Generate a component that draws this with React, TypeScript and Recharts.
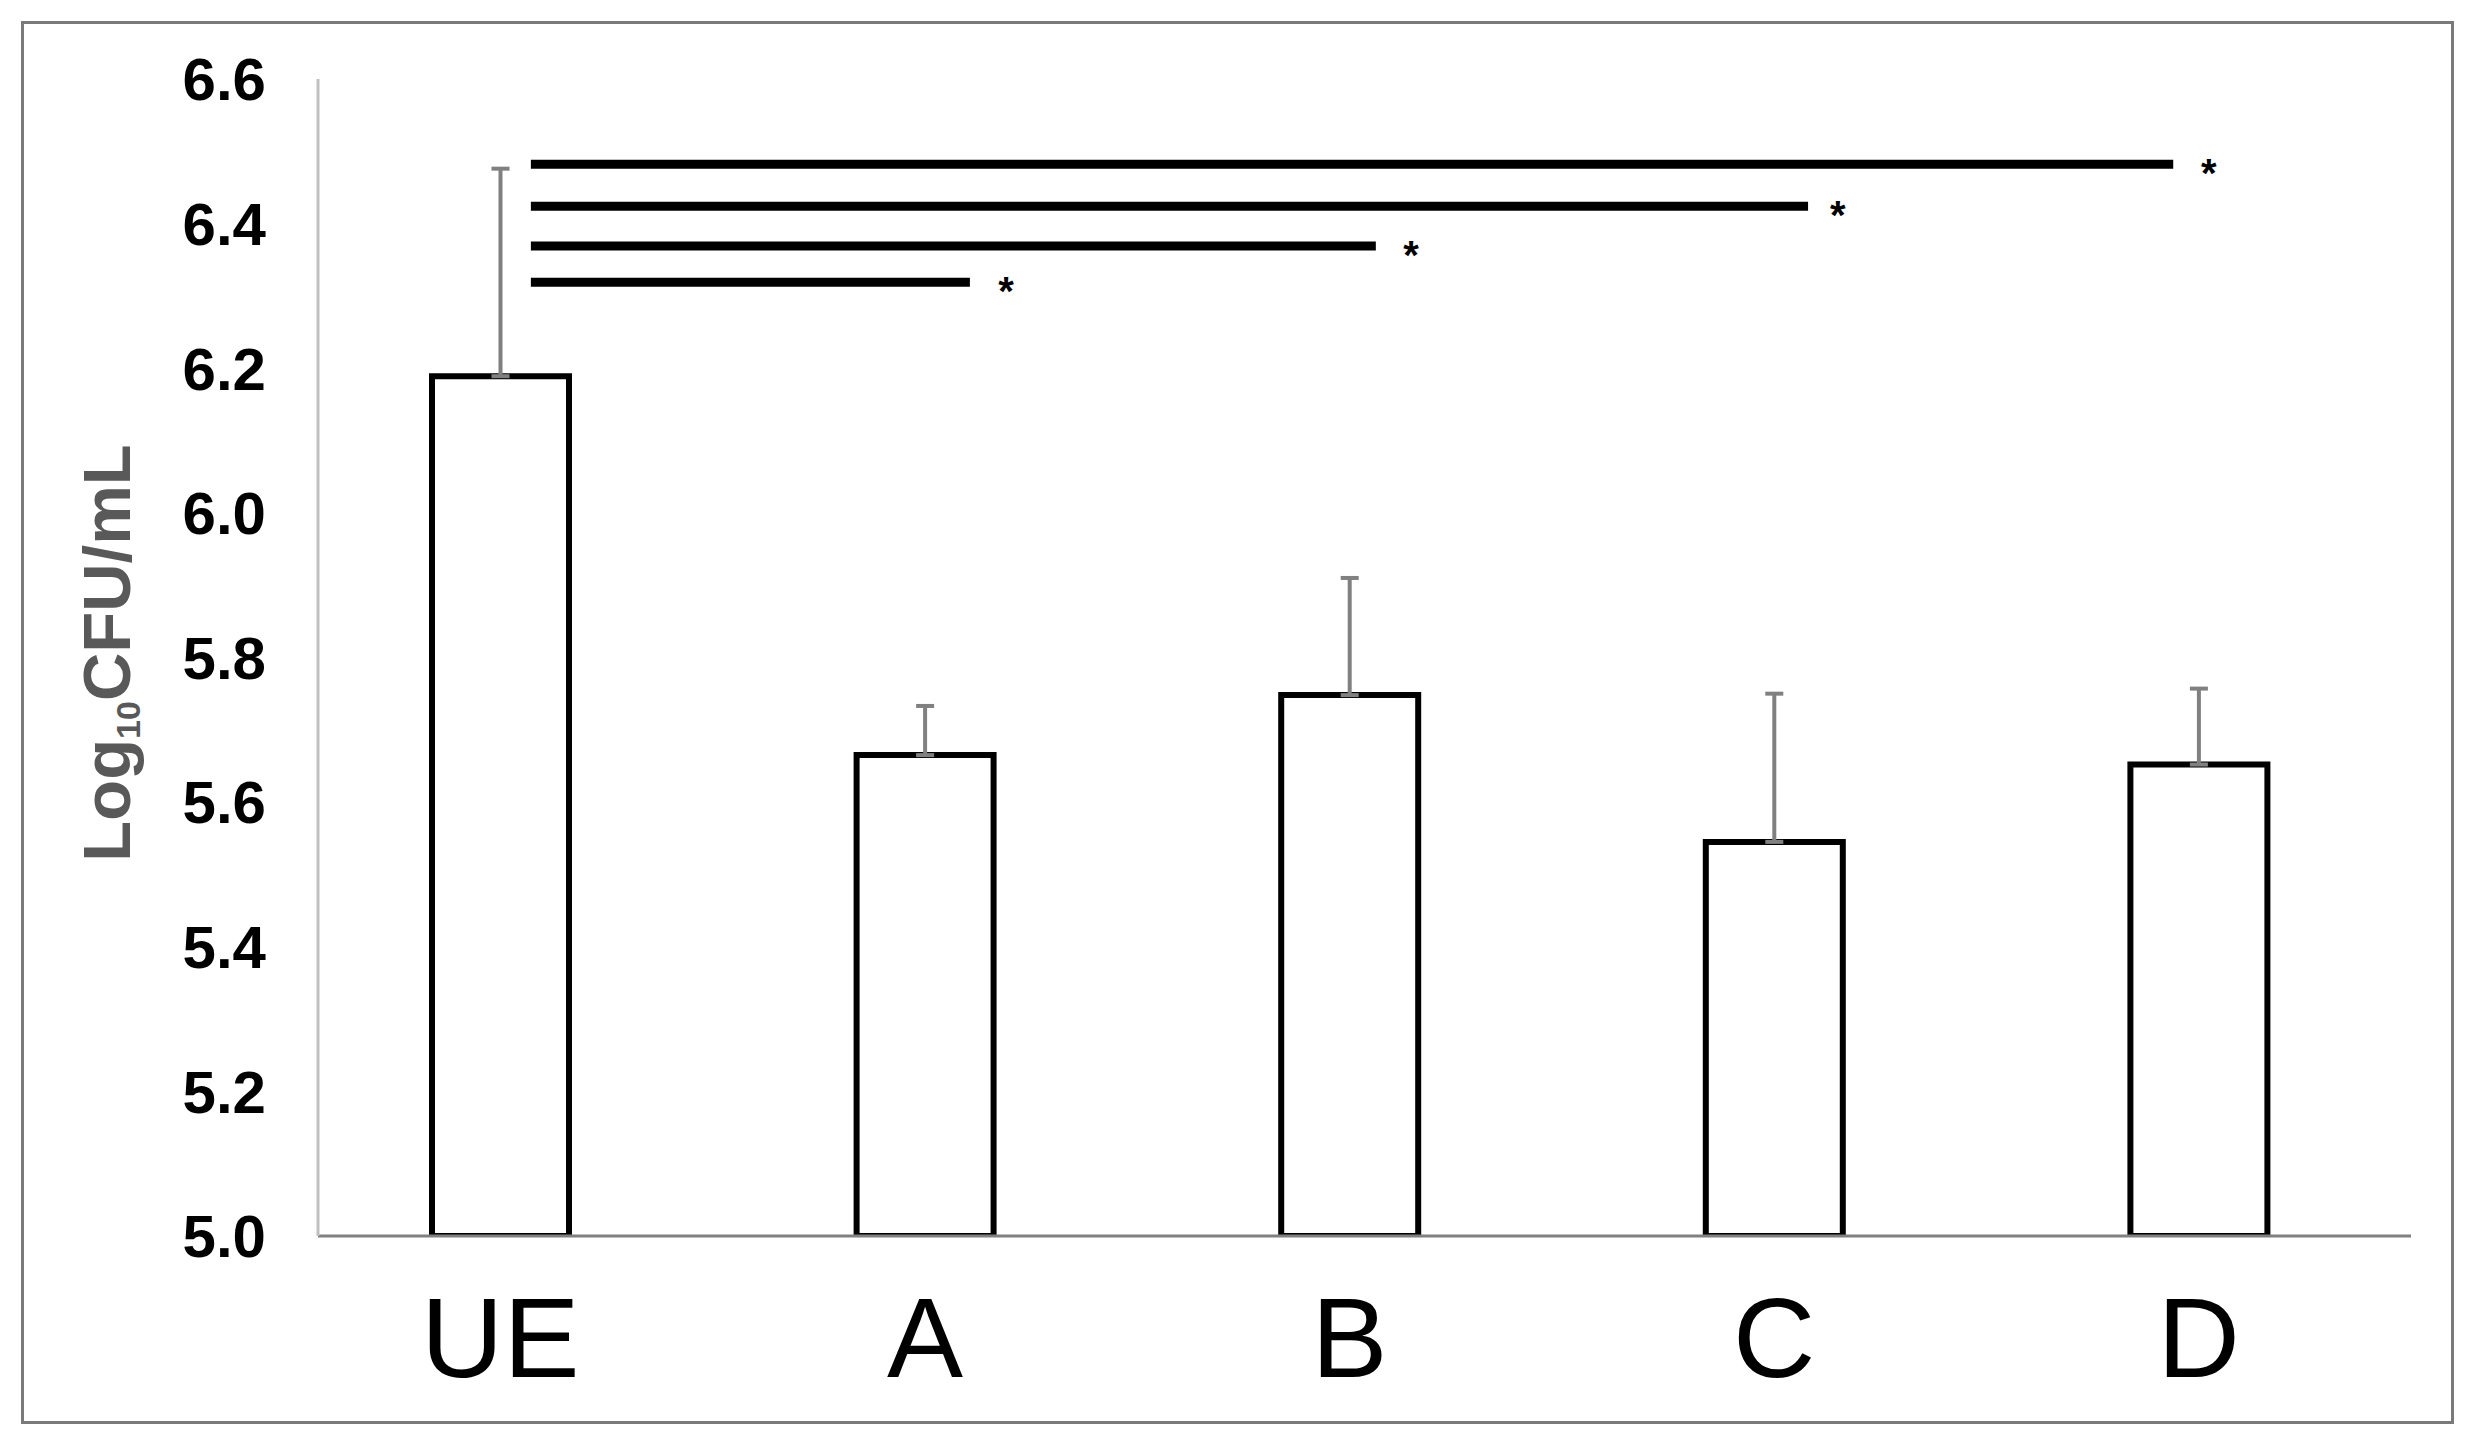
import { BarChart, Bar, XAxis, YAxis, ErrorBar, ReferenceLine, ReferenceDot } from "recharts";

const groups = ["UE", "A", "B", "C", "D"];
const means = [6.189, 5.665, 5.748, 5.545, 5.652];
const sdUpper = [0.287, 0.068, 0.162, 0.205, 0.105];
const yTicks = [5.0, 5.2, 5.4, 5.6, 5.8, 6.0, 6.2, 6.4, 6.6];

// significance bars (UE vs each group); x in band units (UE band = 0..1)
const sigStart = [0.572, 0.572, 0.572, 0.572];
const sigEnd = [4.44, 3.58, 2.562, 1.606];
const sigLevel = [6.482, 6.424, 6.369, 6.319];
const starX = [4.524, 3.65, 2.645, 1.691];

const data = groups.map((g, i) => ({ name: g, pos: i + 0.5, value: means[i], err: [0, sdUpper[i]] }));

const FONT = '"Liberation Sans", Arial, Helvetica, sans-serif';

const YTitle = () => (
  <text
    transform="translate(130,653) rotate(-90)"
    textAnchor="middle"
    fontFamily={FONT}
    fontWeight="bold"
    fill="#595959"
    fontSize={67}
  >
    Log
    <tspan fontSize={34} dy={10}>10</tspan>
    <tspan dy={-10}>CFU/mL</tspan>
  </text>
);

const Star = (props: any) => (
  <text
    x={props.cx}
    y={props.cy + 0.57 * 40}
    textAnchor="middle"
    fontFamily={FONT}
    fontWeight="bold"
    fontSize={40}
    fill="#000"
  >
    *
  </text>
);

export default function App() {
  return (
    <div style={{ position: "absolute", left: 0, top: 0, width: 2472, height: 1443, background: "#fff" }}>
      <div
        style={{
          position: "absolute",
          left: 21,
          top: 21,
          width: 2433,
          height: 1403,
          border: "3px solid #7a7a7a",
          boxSizing: "border-box",
        }}
      />
      <div style={{ position: "absolute", left: 0, top: 0 }}>
        <BarChart
          width={2472}
          height={1443}
          data={data}
          margin={{ top: 79, right: 61, bottom: 0, left: 218 }}
        >
          <XAxis
            dataKey="name"
            padding={{ left: -30, right: 0 }}
            height={207}
            tickLine={false}
            tickSize={0}
            tickMargin={60}
            axisLine={{ stroke: "#808080", strokeWidth: 3 }}
            tick={{ fontSize: 114, fill: "#000", fontFamily: FONT }}
            interval={0}
          />
          <XAxis
            xAxisId="sig"
            dataKey="pos"
            type="number"
            domain={[0, 5]}
            allowDataOverflow
            hide
            padding={{ left: -30, right: 0 }}
          />
          <YAxis
            width={100}
            domain={[5, 6.6]}
            ticks={yTicks}
            interval={0}
            tickFormatter={(v: number) => v.toFixed(1)}
            tickLine={false}
            tickSize={0}
            tickMargin={52}
            axisLine={{ stroke: "#c0c0c0", strokeWidth: 3 }}
            tick={{ fontSize: 60, fill: "#000", fontWeight: "bold", fontFamily: FONT }}
            allowDataOverflow
            label={{ content: () => <YTitle /> }}
          />
          <Bar dataKey="value" fill="#fff" stroke="#000" strokeWidth={6} barSize={137} isAnimationActive={false}>
            <ErrorBar dataKey="err" width={9} stroke="#808080" strokeWidth={4} direction="y" />
          </Bar>
          {sigLevel.map((lv, i) => (
            <ReferenceLine
              key={"l" + i}
              xAxisId="sig"
              segment={[
                { x: sigStart[i], y: lv },
                { x: sigEnd[i], y: lv },
              ]}
              stroke="#000"
              strokeWidth={9}
              ifOverflow="visible"
            />
          ))}
          {sigLevel.map((lv, i) => (
            <ReferenceDot key={"s" + i} xAxisId="sig" x={starX[i]} y={lv} r={0} shape={Star} ifOverflow="visible" />
          ))}
        </BarChart>
      </div>
    </div>
  );
}
